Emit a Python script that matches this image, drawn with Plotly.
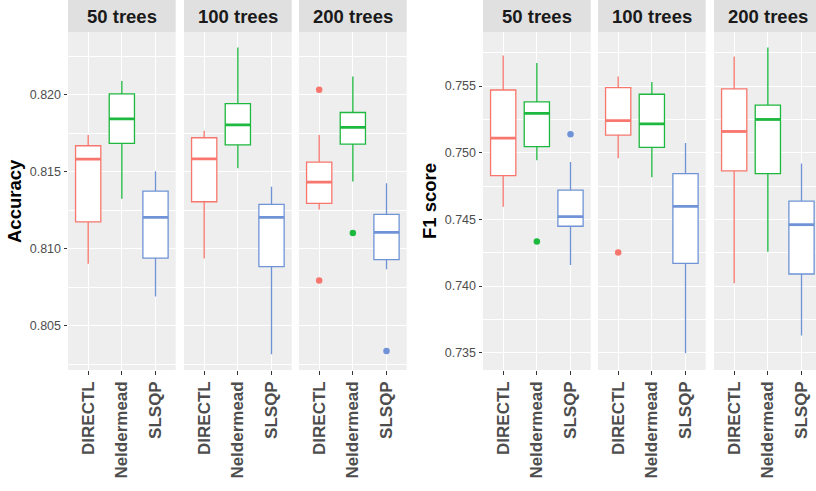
import plotly.graph_objects as go

methods = ["DIRECTL", "Neldermead", "SLSQP"]
facets = ["50 trees", "100 trees", "200 trees"]
colors = ["#F8766D", "#1DB83E", "#6F93D6"]

# Accuracy: per facet (50, 100, 200 trees), per method
acc_lower = [[0.80903, 0.81325, 0.80690], [0.80937, 0.81522, 0.80314], [0.81255, 0.81437, 0.80866]]
acc_q1 = [[0.81175, 0.81684, 0.80939], [0.81305, 0.81675, 0.80883], [0.81294, 0.81680, 0.80929]]
acc_median = [[0.81582, 0.81844, 0.81203], [0.81584, 0.81805, 0.81203], [0.81433, 0.81788, 0.81106]]
acc_q3 = [[0.81669, 0.82006, 0.81374], [0.81721, 0.81942, 0.81288], [0.81563, 0.81885, 0.81223]]
acc_upper = [[0.81738, 0.82089, 0.81504], [0.81766, 0.82307, 0.81403], [0.81738, 0.82119, 0.81426]]
acc_outliers = [[[], [], []], [[], [], []], [[0.82032, 0.80794], [0.81102], [0.80335]]]

# F1 score
f1_lower = [[0.74595, 0.74943, 0.74157], [0.74958, 0.74816, 0.73495], [0.74020, 0.74256, 0.73629]]
f1_q1 = [[0.74828, 0.75045, 0.74448], [0.75132, 0.75040, 0.74169], [0.74863, 0.74843, 0.74090]]
f1_median = [[0.75109, 0.75294, 0.74520], [0.75241, 0.75216, 0.74597], [0.75159, 0.75249, 0.74460]]
f1_q3 = [[0.75470, 0.75381, 0.74719], [0.75488, 0.75438, 0.74843], [0.75478, 0.75356, 0.74637]]
f1_upper = [[0.75729, 0.75672, 0.74930], [0.75572, 0.75530, 0.75072], [0.75721, 0.75789, 0.74918]]
f1_outliers = [[[], [0.74333], [0.75139]], [[0.74251], [], []], [[], [], []]]

acc_ticks = [0.805, 0.810, 0.815, 0.820]
f1_ticks = [0.735, 0.740, 0.745, 0.750, 0.755]

W, H = 816, 491
PANEL_BG = "#EDEEED"
STRIP_BG = "#E0E0E0"
FONT = "Liberation Sans"
BOXW = 0.75

# panel pixel positions (left edge, width); last one is cropped by the image edge
panel_px = [(68, 107.7), (184, 107.7), (299, 107.7), (483, 107.7), (598, 107.7), (714, 107.7)]
ytop, ybot = 32, 370
ydom = [(H - ybot) / H, (H - ytop) / H]

fig = go.Figure()
layout = dict(width=W, height=H, margin=dict(l=0, r=0, t=0, b=0, pad=0),
              paper_bgcolor="white", plot_bgcolor=PANEL_BG, showlegend=False,
              font=dict(family=FONT), hovermode=False)
shapes, annotations = [], []

metrics = [
    ("Accuracy", acc_lower, acc_q1, acc_median, acc_q3, acc_upper, acc_outliers, [0.80212, 0.82408], acc_ticks, 15),
    ("F1 score", f1_lower, f1_q1, f1_median, f1_q3, f1_upper, f1_outliers, [0.7337, 0.75905], f1_ticks, 430),
]

idx = 0
for mi, (title, lo, q1, med, q3, up, outs, yr, yt, title_x) in enumerate(metrics):
    for fi, facet in enumerate(facets):
        idx += 1
        left, width = panel_px[idx - 1]
        right = min(left + width, W)
        xr_max = 0.4 + 3.2 * (right - left) / width
        xa = "x" if idx == 1 else f"x{idx}"
        ya = "y" if idx == 1 else f"y{idx}"
        for k, m in enumerate(methods):
            pos = k + 1
            c = colors[k]
            fig.add_trace(go.Box(
                x=[pos], q1=[q1[fi][k]], median=[med[fi][k]], q3=[q3[fi][k]],
                lowerfence=[lo[fi][k]], upperfence=[up[fi][k]],
                width=BOXW, whiskerwidth=0, fillcolor="white",
                line=dict(color=c, width=1.3), boxpoints=False,
                xaxis=xa, yaxis=ya))
            fig.add_trace(go.Scatter(
                x=[pos - BOXW / 2, pos + BOXW / 2], y=[med[fi][k], med[fi][k]],
                mode="lines", line=dict(color=c, width=2.8),
                xaxis=xa, yaxis=ya))
            if outs[fi][k]:
                fig.add_trace(go.Scatter(
                    x=[pos] * len(outs[fi][k]), y=outs[fi][k], mode="markers",
                    marker=dict(color=c, size=6.5, line=dict(width=0)),
                    xaxis=xa, yaxis=ya))
        xkey = "xaxis" if idx == 1 else f"xaxis{idx}"
        ykey = "yaxis" if idx == 1 else f"yaxis{idx}"
        layout[xkey] = dict(
            domain=[left / W, right / W], anchor=ya, range=[0.4, xr_max],
            tickvals=[1, 2, 3], ticktext=methods, tickangle=-90,
            showgrid=True, gridcolor="white", gridwidth=1.1,
            ticks="outside", ticklen=3.5, tickwidth=1, tickcolor="#333333",
            tickfont=dict(family=FONT, size=17, color="#4D4D4D", weight="bold"),
            zeroline=False, showline=False, fixedrange=True)
        first = fi == 0
        yd = dict(
            domain=ydom, anchor=xa, range=yr, tickvals=yt,
            ticktext=[f"{v:.3f}" for v in yt],
            showgrid=True, gridcolor="white", gridwidth=1.1,
            minor=dict(dtick=0.0025, tick0=yt[0], showgrid=True, gridcolor="white", gridwidth=0.5),
            showticklabels=first, ticks="outside" if first else "",
            ticklen=3.5, tickwidth=1, tickcolor="#333333",
            tickfont=dict(family=FONT, size=12.5, color="#4D4D4D"),
            zeroline=False, showline=False, fixedrange=True)
        layout[ykey] = yd
        # strip
        shapes.append(dict(type="rect", xref="paper", yref="paper",
                           x0=left / W, x1=right / W, y0=ydom[1], y1=1.0,
                           fillcolor=STRIP_BG, line=dict(width=0), layer="below"))
        annotations.append(dict(text=facet, xref="paper", yref="paper",
                                x=(left + width / 2) / W, y=(H - 16.5) / H,
                                showarrow=False, xanchor="center", yanchor="middle",
                                font=dict(family=FONT, size=18.5, color="#1A1A1A", weight="bold")))
    annotations.append(dict(text=title, xref="paper", yref="paper",
                            x=title_x / W, y=(H - (ytop + ybot) / 2) / H,
                            textangle=-90, showarrow=False, xanchor="center", yanchor="middle",
                            font=dict(family=FONT, size=18.5, color="black", weight="bold")))

layout["shapes"] = shapes
layout["annotations"] = annotations
fig.update_layout(**layout)
fig.write_html("out.html", config={"displayModeBar": False},
               post_script="document.body.style.margin='0px';document.body.style.overflow='hidden';")
